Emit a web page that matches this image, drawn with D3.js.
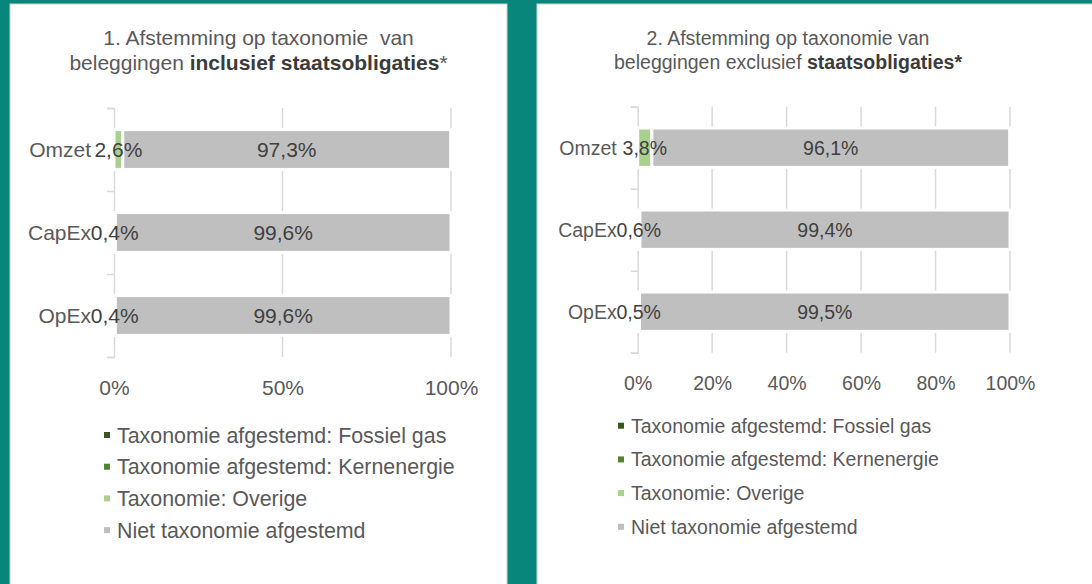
<!DOCTYPE html>
<html>
<head>
<meta charset="utf-8">
<script src="https://cdn.jsdelivr.net/npm/d3@7"></script>
<style>
  body { margin: 0; background: #08867b; }
  svg { display: block; }
  text { font-family: "Liberation Sans", Arial, sans-serif; white-space: pre; }
</style>
</head>
<body>
<svg id="chart" width="1092" height="584"></svg>
<script>
// data
const categories = ["Omzet", "CapEx", "OpEx"];
const seriesNames = [
  "Taxonomie afgestemd: Fossiel gas",
  "Taxonomie afgestemd: Kernenergie",
  "Taxonomie: Overige",
  "Niet taxonomie afgestemd"
];
const seriesColors = ["#375623", "#548235", "#a9d18e", "#bfbfbf"];

const inclFossiel = [0, 0, 0];
const inclKern = [0, 0, 0];
const inclOverig = [2.6, 0.4, 0.4];
const inclNiet = [97.3, 99.6, 99.6];

const exclFossiel = [0, 0, 0];
const exclKern = [0, 0, 0];
const exclOverig = [3.8, 0.6, 0.5];
const exclNiet = [96.1, 99.4, 99.5];

const ticks1 = [0, 50, 100];
const ticks2 = [0, 20, 40, 60, 80, 100];

const title1 = [[["1. Afstemming op taxonomie  van", false]],
  [["beleggingen ", false], ["inclusief staatsobligaties", true], ["*", false]]];
const title2 = [[["2. Afstemming op taxonomie van", false]],
  [["beleggingen exclusief ", false], ["staatsobligaties*", true]]];

const svg = d3.select("#chart");
const nl = d3.formatLocale({ decimal: ",", thousands: ".", grouping: [3], currency: ["", "€"] });
const fmt = nl.format(".1f");

// panel backgrounds
svg.append("rect").attr("x", 10).attr("y", 4).attr("width", 497).attr("height", 590)
  .attr("fill", "#fff").attr("stroke", "#d0d0d0");
svg.append("rect").attr("x", 537).attr("y", 4).attr("width", 600).attr("height", 590)
  .attr("fill", "#fff").attr("stroke", "#d0d0d0");

function rows(a, b, c, d) {
  return categories.map((cat, i) => ({ cat: cat, s0: a[i], s1: b[i], s2: c[i], s3: d[i] }));
}

function drawPanel(p) {
  const g = svg.append("g");
  const x = d3.scaleLinear().domain([0, 100]).range([p.x0, p.x1]);
  const y = d3.scaleBand().domain(categories).range([p.top, p.bottom])
    .paddingInner(0.52).paddingOuter(0.26);
  const yEdge = d3.scaleLinear().domain([0, categories.length]).range([p.top, p.bottom]);

  // title
  const t = g.append("text").attr("text-anchor", "middle").attr("font-size", p.titleSize)
    .attr("fill", "#595959");
  p.title.forEach((line, li) => {
    const ln = t.append("tspan").attr("x", p.titleX).attr("y", p.titleY[li]);
    line.forEach(seg => {
      ln.append("tspan").text(seg[0])
        .attr("font-weight", seg[1] ? "bold" : null)
        .attr("fill", seg[1] ? "#3b3b3b" : null);
    });
  });

  // gridlines
  g.selectAll(".grid").data(p.ticks.filter(d => d > 0)).enter().append("line")
    .attr("x1", d => x(d)).attr("x2", d => x(d))
    .attr("y1", p.top).attr("y2", p.bottom)
    .attr("stroke", "#d9d9d9").attr("stroke-width", 1.5);

  // y axis with ticks at band edges
  const ya = g.append("g").attr("transform", "translate(" + p.x0 + ",0)")
    .call(d3.axisLeft(yEdge).tickValues(d3.range(categories.length + 1)).tickSize(7).tickSizeOuter(7).tickFormat(""));
  ya.selectAll("path, line").attr("stroke", "#d9d9d9").attr("stroke-width", 1.5);

  // x axis labels
  const xa = g.append("g").attr("transform", "translate(0," + p.tickY + ")")
    .call(d3.axisBottom(x).tickValues(p.ticks).tickSize(0).tickPadding(0).tickFormat(d => d + "%"));
  xa.select(".domain").remove();
  xa.selectAll("text").attr("font-size", p.fontSize).attr("fill", "#595959")
    .attr("font-family", "Liberation Sans, Arial, sans-serif").attr("dy", 0);

  // bars
  const data = rows(p.s0, p.s1, p.s2, p.s3);
  const stack = d3.stack().keys(["s0", "s1", "s2", "s3"])(data);
  const layer = g.selectAll(".layer").data(stack).enter().append("g")
    .attr("fill", (d, i) => seriesColors[i]);
  layer.selectAll("rect").data(d => d).enter().append("rect")
    .attr("x", d => x(d[0]))
    .attr("width", d => x(d[1]) - x(d[0]))
    .attr("y", d => y(d.data.cat))
    .attr("height", y.bandwidth())
    .attr("stroke", "#fff").attr("stroke-width", 3);

  // category labels
  g.selectAll(".cat").data(categories).enter().append("text")
    .attr("x", p.x0 - p.catGap).attr("y", d => y(d) + y.bandwidth() / 2)
    .attr("dy", "0.36em").attr("text-anchor", "end")
    .attr("font-size", p.fontSize).attr("fill", "#595959").text(d => d);

  // data labels, drawn after all bars
  const labels = stack.flatMap(s => s.filter(v => v[1] - v[0] > 0));
  g.append("g").selectAll("text").data(labels).enter().append("text")
    .attr("x", d => (x(d[0]) + x(d[1])) / 2)
    .attr("y", d => y(d.data.cat) + y.bandwidth() / 2)
    .attr("dy", "0.36em").attr("text-anchor", "middle")
    .attr("font-size", p.fontSize).attr("fill", "#404040")
    .text(d => fmt(d[1] - d[0]) + "%");

  // legend
  const lg = g.selectAll(".leg").data(seriesNames).enter().append("g")
    .attr("transform", (d, i) => "translate(0," + (p.legY + i * p.legStep) + ")");
  lg.append("rect").attr("x", p.legX).attr("y", -3).attr("width", 6).attr("height", 6)
    .attr("fill", (d, i) => seriesColors[i]);
  lg.append("text").attr("x", p.legX + 13).attr("dy", "0.36em")
    .attr("font-size", p.legSize).attr("fill", "#595959").text(d => d);
}

drawPanel({
  title: title1, titleX: 258.5, titleY: [45, 70], titleSize: 21,
  x0: 114, x1: 451, top: 108, bottom: 357, tickY: 395, ticks: ticks1,
  fontSize: 21, catGap: 23,
  s0: inclFossiel, s1: inclKern, s2: inclOverig, s3: inclNiet,
  legX: 104, legY: 435, legStep: 31.7, legSize: 21.4
});

drawPanel({
  title: title2, titleX: 788, titleY: [45, 69], titleSize: 19.5,
  x0: 637.7, x1: 1010, top: 106.7, bottom: 352.7, tickY: 390, ticks: ticks2,
  fontSize: 19.5, catGap: 21,
  s0: exclFossiel, s1: exclKern, s2: exclOverig, s3: exclNiet,
  legX: 618, legY: 425.7, legStep: 33.7, legSize: 19.5
});
</script>
</body>
</html>
